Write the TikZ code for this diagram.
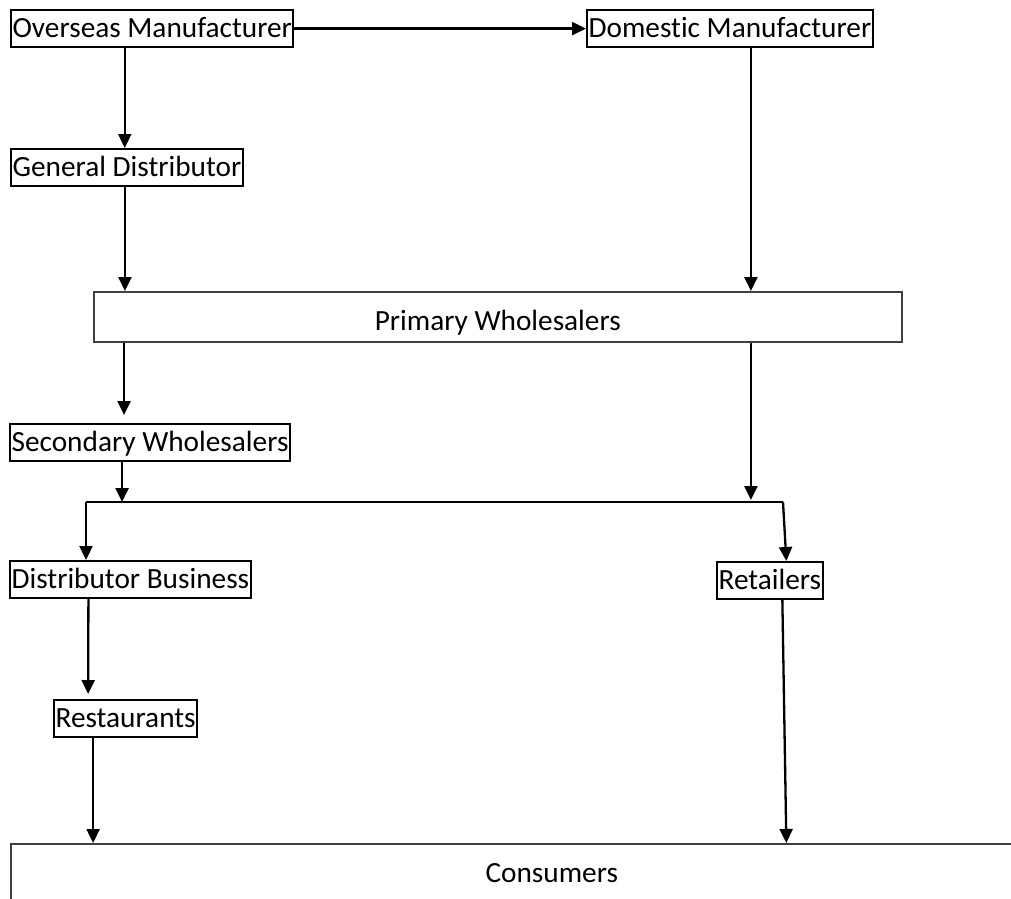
\documentclass[tikz,border=0pt]{standalone}
\usepackage{fontspec}
\setmainfont{Carlito}[Ligatures=NoCommon]
\usetikzlibrary{arrows.meta}
\begin{document}
\begin{tikzpicture}[x=1pt,y=-1pt,font=\fontsize{29.3}{30}\selectfont,
  box/.style={draw,line width=2.2pt,anchor=north west,inner ysep=0pt,
    inner xsep=1.5pt,text height=27pt,text depth=10pt},
  bigbox/.style={draw=black!75,line width=1.5pt,anchor=north west,
    inner sep=0pt,text height=39pt},
  arr/.style={line width=2.3pt,-{Triangle[length=14pt,width=13pt]}}]
\clip (0,0) rectangle (1011,898);
\node[box] (over) at (10,9) {Overseas Manufacturer};
\node[box] (dom) at (586,9) {Domestic Manufacturer};
\node[box] (gen) at (10,148) {General Distributor};
\node[bigbox,minimum width=808pt,text depth=11pt] (prim) at (93,291)
  {Primary Wholesalers};
\node[box] (sec) at (9,423) {Secondary Wholesalers};
\node[box] (dist) at (9,560) {Distributor Business};
\node[box] (ret) at (716,561) {Retailers};
\node[box] (rest) at (53,699) {Restaurants};
\node[bigbox,minimum width=1082pt,text depth=21pt] (cons) at (10,843)
  {Consumers};
\coordinate (jl) at (86,502);
\coordinate (jr) at (783,502);
\draw[arr] (over.east) -- (dom.west);
\draw[arr] ([xshift=-27.5pt]over.south) -- ([xshift=-27.5pt]over.south |- gen.north);
\draw[arr] ([xshift=-2pt]gen.south) -- ([xshift=-2pt]gen.south |- prim.north);
\draw[arr] ([xshift=21pt]dom.south) -- ([xshift=21pt]dom.south |- prim.north);
\draw[arr] ([xshift=-26pt]sec.north |- prim.south) -- ([xshift=-26pt,yshift=8pt]sec.north);
\draw[arr] ([xshift=21pt]dom.south |- prim.south) -- ([xshift=21pt,yshift=2pt]dom.south |- jr);
\draw[line width=1.6pt] (jl) -- (jr);
\draw[arr] ([xshift=-28pt]sec.south) -- ([xshift=-28pt]sec.south |- jl);
\draw[arr] (jl) -- (jl |- dist.north);
\draw[arr] (jr) -- ([xshift=16.5pt]ret.north);
\draw[arr] ([xshift=-42pt]dist.south) -- ([xshift=-37.5pt,yshift=5pt]rest.north);
\draw[arr] ([xshift=-32.5pt]rest.south) -- ([xshift=-32.5pt]rest.south |- cons.north);
\draw[arr] ([xshift=12.5pt]ret.south) -- ([xshift=16.5pt]ret.south |- cons.north);
\end{tikzpicture}
\end{document}
